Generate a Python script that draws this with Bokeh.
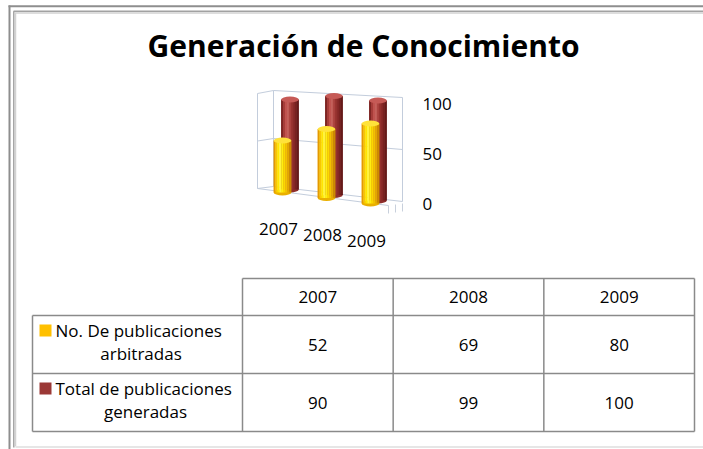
from bokeh.plotting import figure
from bokeh.models import Range1d, ColumnDataSource
from bokeh.core.properties import value
from bokeh.embed import file_html
from bokeh.resources import INLINE

# ---------------- data ----------------
title_text = "Generación de Conocimiento"
years = ["2007", "2008", "2009"]
arbitradas = [52, 69, 80]
totales = [90, 99, 100]
val_ticks = [0, 50, 100]
val_tick_labels = ["0", "50", "100"]
row_labels = [["No. De publicaciones", "arbitradas"],
              ["Total de publicaciones", "generadas"]]
series_keys = ["#ffc000", "#9b3836"]

FONT = value("Open Sans")

# ---------------- figure (page pixel coordinates) ----------------
W, H = 703, 449
p = figure(width=W, height=H, output_backend="svg", toolbar_location=None,
           x_range=Range1d(0, W), y_range=Range1d(H, 0),
           x_axis_type=None, y_axis_type=None, min_border=0,
           outline_line_color=None, background_fill_color="white",
           border_fill_color="white")
p.grid.visible = False

# value scale: 1 px per unit, value 0 at page y 203
K = 1.0
Y0 = 203
p.extra_y_ranges = {"val": Range1d(-(H - Y0) / K, Y0 / K)}
# category scale: index i at page x 282 + 44 i
CX0, CDX = 282, 44
p.extra_x_ranges = {"cat": Range1d(-CX0 / CDX, (W - CX0) / CDX)}

# ---------------- outer frame ----------------
p.segment(x0=[9, 8], y0=[5, 5.8], x1=[9, W], y1=[H, 5.8], line_color="#8e8e8e", line_width=2)
p.segment(x0=[13.3, 13], y0=[10.8, 10.8], x1=[13.3, W], y1=[447, 10.8], line_color="#a2a2a2", line_width=1.5)
p.segment(x0=[15, 14.5], y0=[12.5, 12.5], x1=[15, W], y1=[446, 12.5], line_color="#d2d2d2", line_width=1.5)
p.segment(x0=[15], y0=[446.5], x1=[W], y1=[446.5], line_color="#e6e6e6", line_width=2)

# ---------------- title ----------------
p.text(x=[363], y=[45], text=[title_text], text_font=FONT, text_font_size="30px",
       text_font_style="bold", text_align="center", text_baseline="middle", text_color="black")

# ---------------- 3D walls (from tick values) ----------------
wall_col = "#c3cddc"
xl, xb0, xb1 = 257, 273, 402
fl, fb0, fb1 = 188, 186, 201
kl, kb0, kb1 = 0.95, 0.96, 1.04
tmax = max(val_ticks)
xs, ys = [], []
for t in val_ticks:
    xs.append([xl, xb0, xb1])
    ys.append([fl - t * kl, fb0 - t * kb0, fb1 - t * kb1])
for xv, f, k in [(xl, fl, kl), (xb0, fb0, kb0), (xb1, fb1, kb1)]:
    xs.append([xv, xv])
    ys.append([f, f - tmax * k])
xs.append([xl, 388])
ys.append([fl, 205])
p.multi_line(xs=xs, ys=ys, line_color=wall_col, line_width=1)
p.segment(x0=[388, 395, 402], y0=[205, 204, 203], x1=[388, 395, 402], y1=[213, 212, 211],
          line_color="#c8d0dc", line_width=1)

# ---------------- cylinders ----------------
n = len(years)
idx = list(range(n))
CW = 0.4  # cylinder width in category units
yellow_cols = ["#e49a00", "#f8c800", "#ffe600", "#fff43c", "#ffee10", "#fbd800", "#f2c200", "#e2a800", "#cc8c00"]
red_cols = ["#7e2624", "#a53c39", "#c0524e", "#c4605b", "#ae4541", "#9a3431", "#8a2b29", "#782220", "#661a19"]


def cylinder(xc, bottoms, vals, cols, top_col, bot_col):
    m = len(cols)
    sw = CW / m
    bx, bb, bt, bc = [], [], [], []
    for i in range(len(xc)):
        for j, c in enumerate(cols):
            bx.append(xc[i] - CW / 2 + sw * (j + 0.5))
            bb.append(bottoms[i])
            bt.append(bottoms[i] + vals[i])
            bc.append(c)
    tops = [b + v for b, v in zip(bottoms, vals)]
    p.ellipse(x=xc, y=bottoms, width=CW * CDX, height=6, width_units="screen", height_units="screen",
              fill_color=bot_col, line_color=None, x_range_name="cat", y_range_name="val")
    src = ColumnDataSource(dict(x=bx, b=bb, t=bt, c=bc))
    p.vbar(x="x", bottom="b", top="t", width=sw * 1.15, fill_color="c", line_color=None,
           source=src, x_range_name="cat", y_range_name="val")
    p.ellipse(x=xc, y=tops, width=CW * CDX, height=6, width_units="screen", height_units="screen",
              fill_color=top_col, line_color=None, x_range_name="cat", y_range_name="val")


tilt = 5.5
depth_dx, depth_dy = 0.17, 3
yellow_floor = [tilt * (n - 1 - i) for i in idx]
red_floor = [f + depth_dy for f in yellow_floor]
cylinder([i + depth_dx for i in idx], red_floor, totales, red_cols, "#c65a56", "#8e2e2b")
cylinder(idx, yellow_floor, arbitradas, yellow_cols, "#ffe23a", "#eab000")

# ---------------- value labels ----------------
p.text(x=[422] * len(val_ticks), y=val_ticks, text=val_tick_labels, text_font=FONT,
       text_font_size="17px", text_align="left", text_baseline="middle", text_color="black",
       y_range_name="val")

# ---------------- category labels ----------------
p.text(x=idx, y=[228 + 6 * i for i in idx], text=years, text_font=FONT, text_font_size="17px",
       text_align="center", text_baseline="middle", text_color="black", x_offset=-4,
       x_range_name="cat")

# ---------------- data table ----------------
tl, tc, tr = 32, 242, 694
ttop, thdr, trow, tbot = 278, 315, 373, 431
col_w = (tr - tc) / n
col_edges = [tc + col_w * k for k in range(n + 1)]
col_centers = [tc + col_w * (k + 0.5) for k in range(n)]
tab_col = "#8a8a8a"
sx0 = [tc, tl, tl, tl] + [tl] + col_edges
sy0 = [ttop, thdr, trow, tbot] + [thdr] + [ttop] * (n + 1)
sx1 = [tr, tr, tr, tr] + [tl] + col_edges
sy1 = [ttop, thdr, trow, tbot] + [tbot] + [tbot] * (n + 1)
p.segment(x0=sx0, y0=sy0, x1=sx1, y1=sy1, line_color=tab_col, line_width=1.5)

TFS = "17px"
p.text(x=col_centers, y=[(ttop + thdr) / 2] * n, text=years, text_font=FONT, text_font_size=TFS,
       text_align="center", text_baseline="middle", text_color="black")
row_mid = [(thdr + trow) / 2, (trow + tbot) / 2]
line2_x = [140.5, 145]
for r, vals in enumerate([arbitradas, totales]):
    p.text(x=col_centers, y=[row_mid[r]] * n, text=[str(v) for v in vals], text_font=FONT,
           text_font_size=TFS, text_align="center", text_baseline="middle", text_color="black")
    p.text(x=[55], y=[row_mid[r] - 14], text=[row_labels[r][0]], text_font=FONT, text_font_size=TFS,
           text_align="left", text_baseline="middle", text_color="black")
    p.text(x=[line2_x[r]], y=[row_mid[r] + 9], text=[row_labels[r][1]], text_font=FONT, text_font_size=TFS,
           text_align="center", text_baseline="middle", text_color="black")
    p.rect(x=[45], y=[row_mid[r] - 14], width=12, height=12, width_units="screen", height_units="screen",
           fill_color=series_keys[r], line_color=None)

open("out.html", "w").write(file_html(p, INLINE))
